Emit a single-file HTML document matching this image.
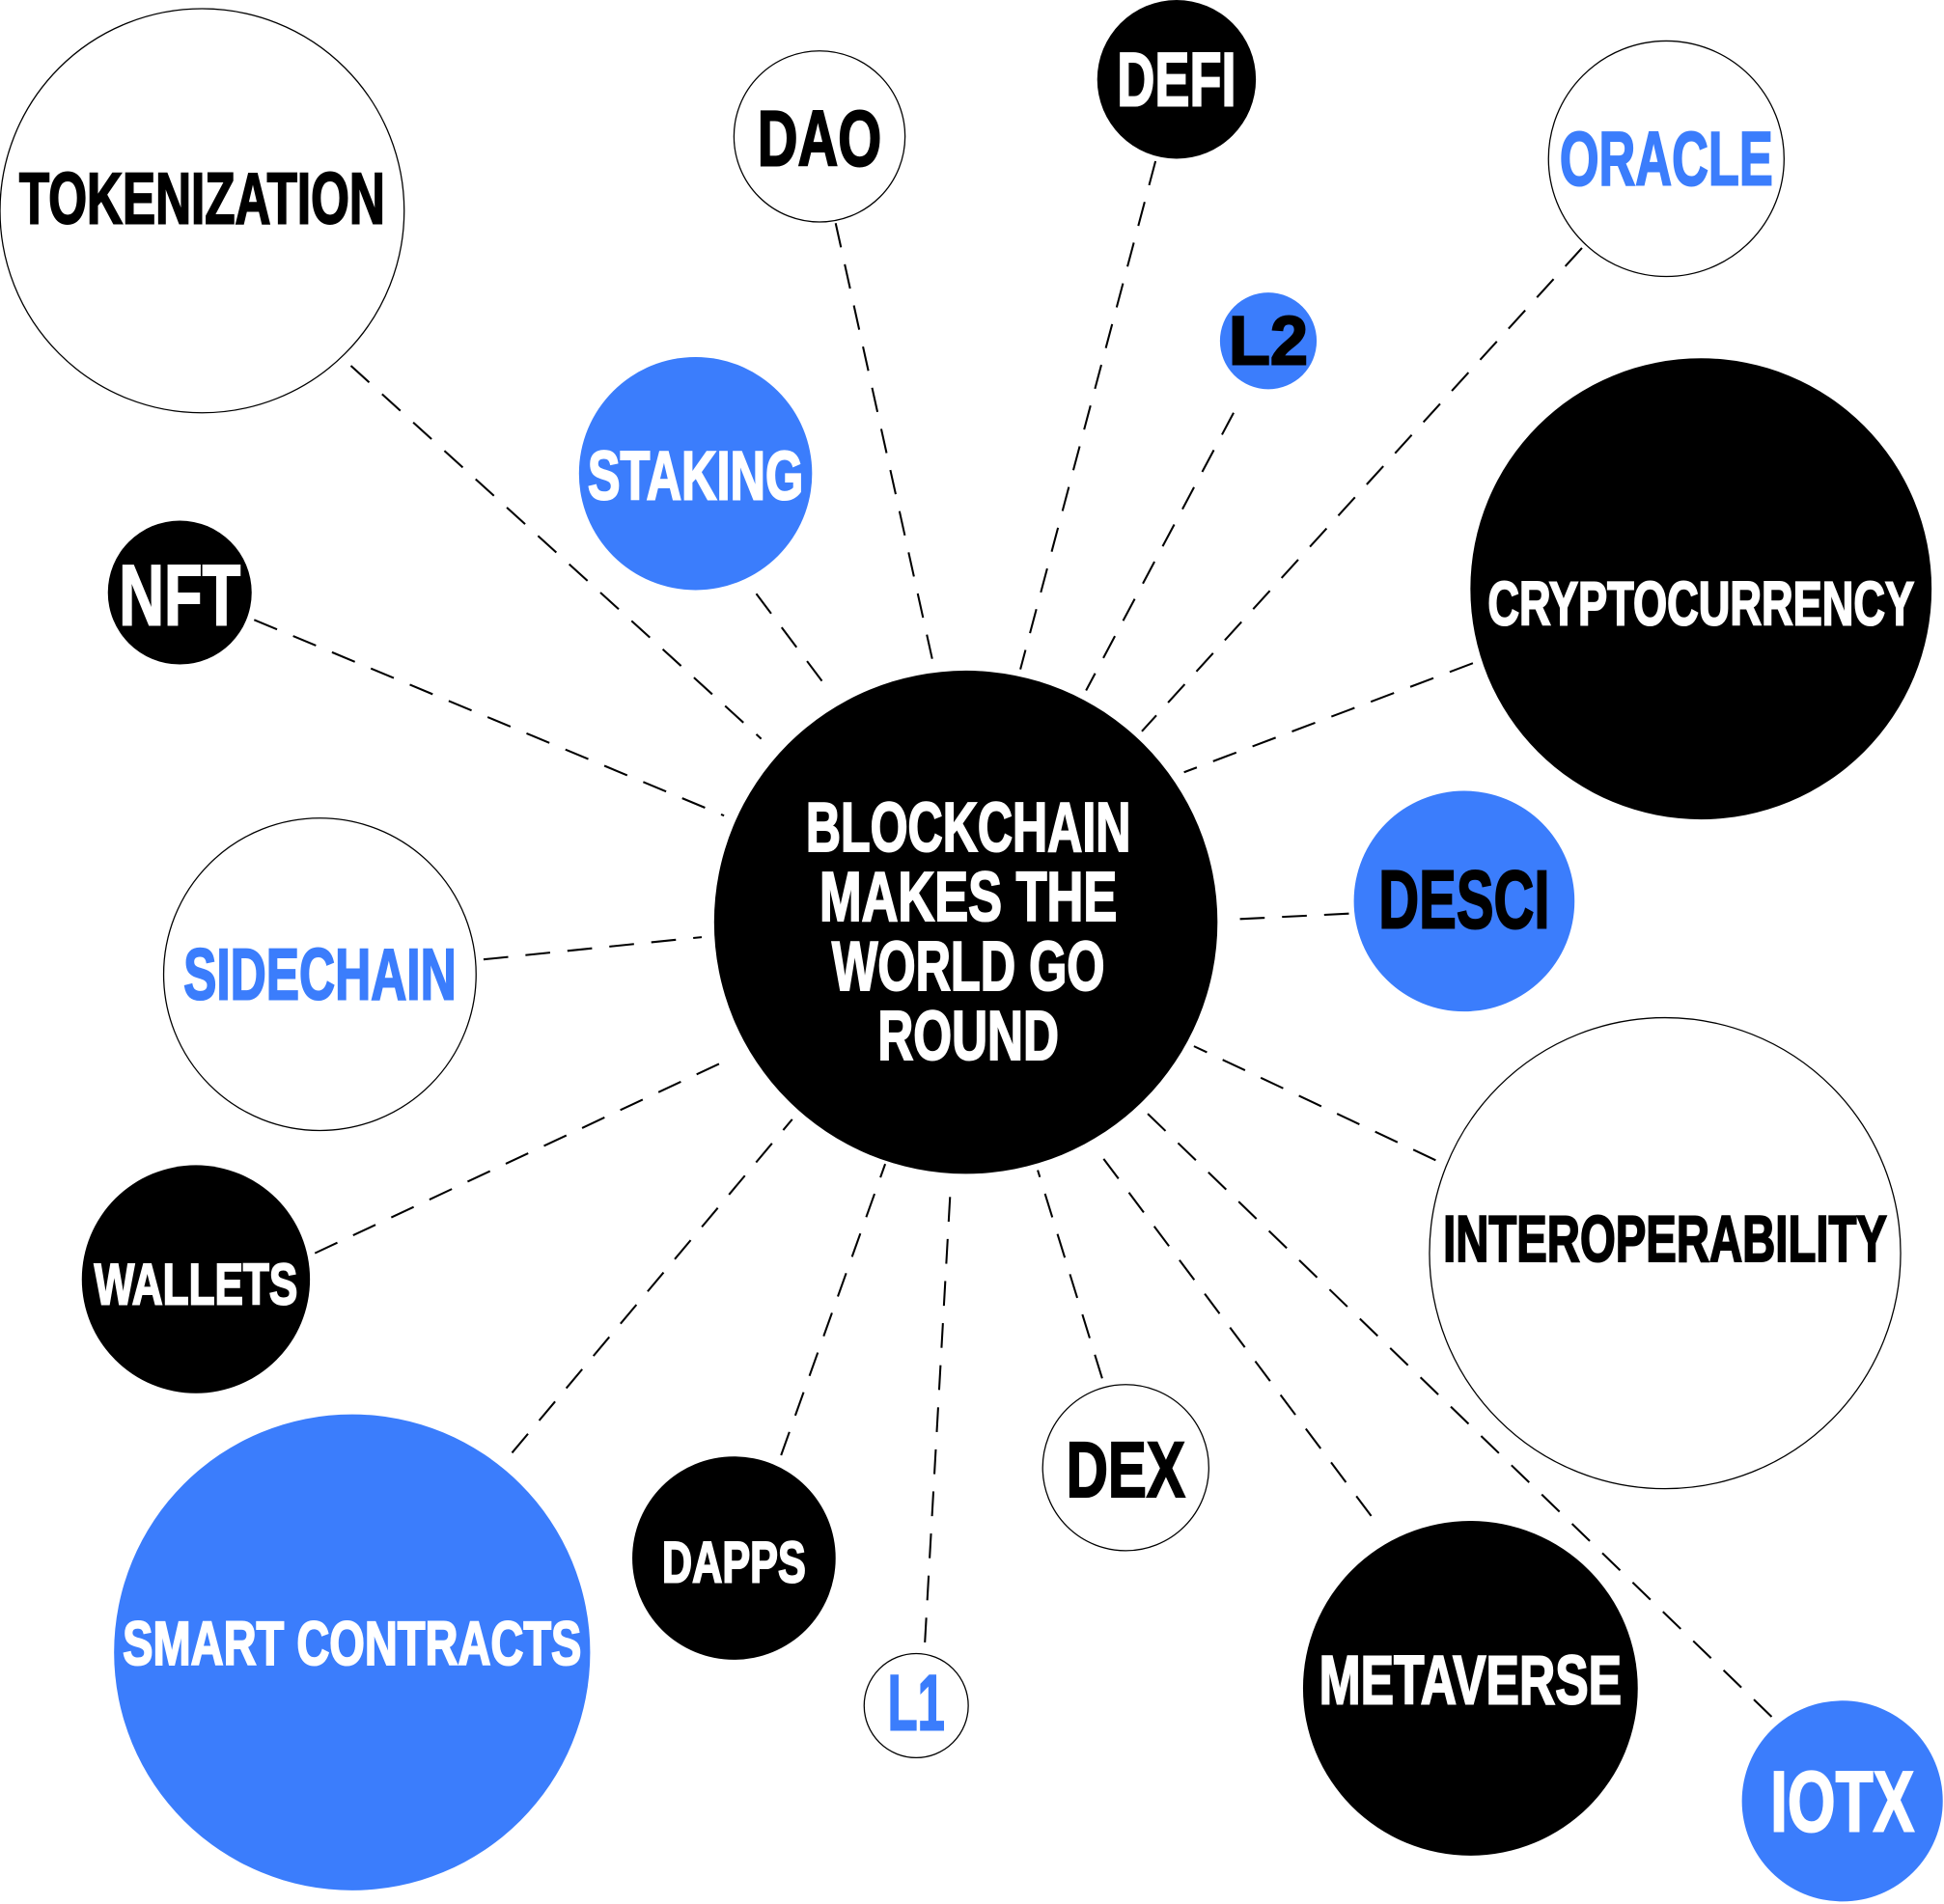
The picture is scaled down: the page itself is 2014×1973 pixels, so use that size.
<!DOCTYPE html>
<html><head><meta charset="utf-8"><style>
html,body{margin:0;padding:0;background:#fff;}
svg{display:block;}
text{font-family:"Liberation Sans",sans-serif;font-weight:bold;text-anchor:middle;dominant-baseline:central;}
</style></head><body>
<svg width="2014" height="1973" viewBox="0 0 1568 1536" xmlns="http://www.w3.org/2000/svg">
<g id="lines"></g>
<g id="nodes"></g>
<script>
const labels=["TOKENIZATION","DAO","DEFI","ORACLE","L2","STAKING","CRYPTOCURRENCY","NFT","DESCI","SIDECHAIN","INTEROPERABILITY","WALLETS","SMART CONTRACTS","DAPPS","DEX","L1","METAVERSE","IOTX"];
const cx=[163,661,949,1344,1023,561,1372,145,1181,258,1343,158,284,592,908,739,1186,1486];
const cy=[170,110,64,128,275,382,475,478,727,786,1011,1032,1333,1257,1184,1376,1362,1453];
const labelY=[160,112,64,128,275,384,487,480,726,786,1000,1036,1326,1260,1186,1374,1356,1453];
const radius=[163,69,64,95,39,94,186,58,89,126,190,92,192,82,67,42,135,81];
const fills=["w","w","k","w","b","b","k","k","b","w","w","k","b","k","w","w","k","b"];
const inks=["k","k","w","b","k","w","w","w","k","b","k","w","w","w","k","b","w","w"];
const textW=[295,100,96,172,64,174,344,98,138,220,358,164,370,116,96,46,244,116];
const capH=[42,46,44,44,40,40,36,50,48,42,38,34,36,34,46,46,40,50];
const lineFrom=[[283,295],[674,180],[932,130],[1276,200],[995,333],[610,479],[1188,535],[205,500],[1088,737],[390,774],[1158,936],[254,1011],[413,1172],[630,1174],[889,1112],[746,1325],[1106,1223],[1429,1385]];
const lineTo=[[614,596],[752,532],[823,540],[921,590],[876,557],[668,556],[955,623],[584,658],[988,742],[566,756],[963,844],[589,854],[639,903],[714,939],[837,944],[767,953],[885,928],[918,891]];
const centerLines=["BLOCKCHAIN","MAKES THE","WORLD GO","ROUND"];
const centerW=[262,240,220,146];
const col={w:"#fff",k:"#000",b:"#3b7dfc"};
const NS="http://www.w3.org/2000/svg";
const L=document.getElementById('lines'),N=document.getElementById('nodes');
function mk(t,a){const e=document.createElementNS(NS,t);for(const k in a)e.setAttribute(k,a[k]);return e;}
lineFrom.forEach((p,i)=>{
 const l=mk('line',{x1:p[0],y1:p[1],x2:lineTo[i][0],y2:lineTo[i][1],stroke:"#000","stroke-width":1.6,"stroke-dasharray":"20 14"});
 
 
 L.appendChild(l);
});
labels.forEach((lab,i)=>{
 const g=mk('g',{});
 
 
 const c=mk('circle',{cx:cx[i],cy:cy[i],r:radius[i],fill:col[fills[i]]});
 if(fills[i]==="w"){c.setAttribute('stroke','#000');c.setAttribute('stroke-width',1);}
 g.appendChild(c);
 const t=mk('text',{x:cx[i],y:labelY[i],fill:col[inks[i]],stroke:col[inks[i]],"stroke-width":1.6,"font-size":capH[i]/0.72,textLength:textW[i],lengthAdjust:"spacingAndGlyphs"});
 
 
 t.textContent=lab;g.appendChild(t);N.appendChild(g);
});
const cg=mk('g',{});


cg.appendChild(mk('circle',{cx:779,cy:744,r:203,fill:"#000"}));
centerLines.forEach((s,i)=>{
 const t=mk('text',{x:781,y:668+56*i,fill:"#fff",stroke:"#fff","stroke-width":1.6,"font-size":56,textLength:centerW[i],lengthAdjust:"spacingAndGlyphs"});
 
 
 t.textContent=s;cg.appendChild(t);
});
N.appendChild(cg);
</script>
</svg>
</body></html>
